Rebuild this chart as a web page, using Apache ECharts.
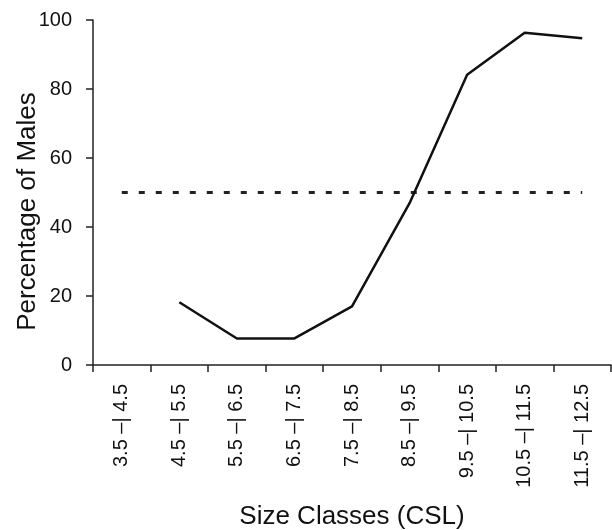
<!DOCTYPE html>
<html>
<head>
<meta charset="utf-8">
<script src="https://cdn.jsdelivr.net/npm/echarts@6/dist/echarts.min.js"></script>
<style>html,body{margin:0;padding:0;background:#fff}#c{width:612px;height:530px}</style>
</head>
<body>
<div id="c"></div>
<script>
const categories = ["3.5 –| 4.5","4.5 –| 5.5","5.5 –| 6.5","6.5 –| 7.5","7.5 –| 8.5","8.5 –| 9.5","9.5 –| 10.5","10.5 –| 11.5","11.5 –| 12.5"];
const malePercent = [null, 18.2, 7.7, 7.7, 17.0, 46.9, 84.1, 96.3, 94.7];
const referenceLine = [50, 50, 50, 50, 50, 50, 50, 50, 50];
const yTicks = [0, 20, 40, 60, 80, 100];

const chart = echarts.init(document.getElementById('c'), null, {renderer: 'canvas'});
const font = '"Liberation Sans", Arial, sans-serif';
chart.setOption({
  animation: false,
  backgroundColor: '#fff',
  grid: {left: 93, right: 1, top: 20, bottom: 165, containLabel: false, outerBoundsMode: 'none'},
  xAxis: {
    type: 'category',
    data: categories,
    boundaryGap: true,
    name: 'Size Classes (CSL)',
    nameLocation: 'middle',
    nameGap: 139,
    nameTextStyle: {fontFamily: font, fontSize: 26, color: '#111'},
    axisLine: {lineStyle: {color: '#222', width: 1.5}},
    axisTick: {show: true, length: 7, alignWithLabel: false, lineStyle: {color: '#222', width: 1.5}},
    axisLabel: {rotate: 90, margin: 19, fontFamily: font, fontSize: 20, color: '#111', interval: 0},
    splitLine: {show: false}
  },
  yAxis: {
    type: 'value',
    min: yTicks[0],
    max: yTicks[yTicks.length - 1],
    interval: 20,
    name: 'Percentage of Males',
    nameLocation: 'middle',
    nameGap: 52,
    nameMoveOverlap: false,
    nameTextStyle: {fontFamily: font, fontSize: 26, color: '#111', padding: [0, 38, 0, 0]},
    axisLine: {show: true, lineStyle: {color: '#222', width: 1.5}},
    axisTick: {show: true, length: 7, lineStyle: {color: '#222', width: 1.5}},
    axisLabel: {margin: 21, fontFamily: font, fontSize: 20, color: '#111'},
    splitLine: {show: false}
  },
  series: [
    {
      type: 'line',
      data: referenceLine,
      symbol: 'none',
      silent: true,
      lineStyle: {color: '#222', width: 3, type: [6, 11]}
    },
    {
      type: 'line',
      data: malePercent,
      symbol: 'none',
      connectNulls: false,
      lineStyle: {color: '#111', width: 2.5}
    }
  ]
});
</script>
</body>
</html>
